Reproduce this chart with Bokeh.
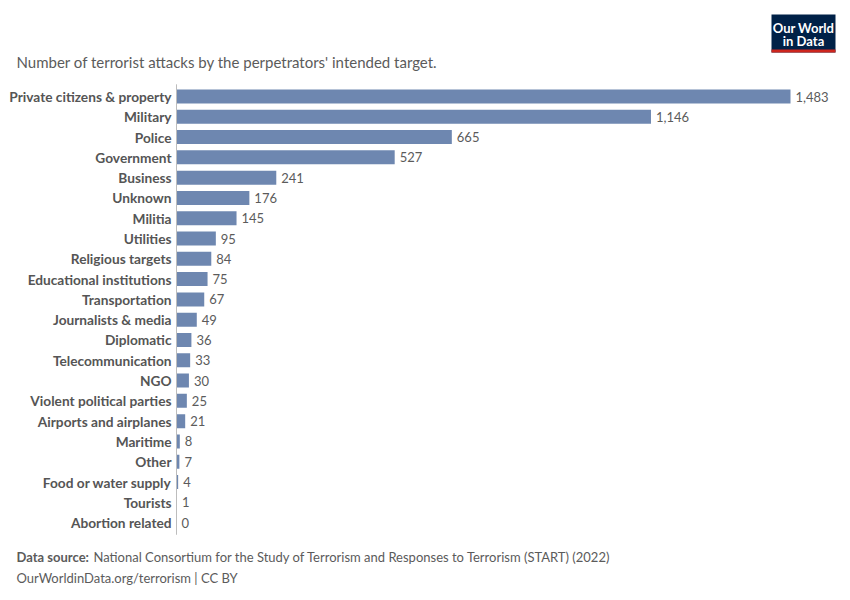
from bokeh.plotting import figure
from bokeh.models import ColumnDataSource, Range1d, Label, BoxAnnotation
from bokeh.core.properties import value
from bokeh.embed import file_html
from bokeh.resources import INLINE

categories = ["Private citizens & property", "Military", "Police", "Government", "Business",
              "Unknown", "Militia", "Utilities", "Religious targets", "Educational institutions",
              "Transportation", "Journalists & media", "Diplomatic", "Telecommunication", "NGO",
              "Violent political parties", "Airports and airplanes", "Maritime", "Other",
              "Food or water supply", "Tourists", "Abortion related"]
attacks = [1483, 1146, 665, 527, 241, 176, 145, 95, 84, 75, 67, 49, 36, 33, 30, 25, 21, 8, 7, 4, 1, 0]

title_text = "Number of terrorist attacks by the perpetrators' intended target."
source_bold = "Data source:"
source_text = "National Consortium for the Study of Terrorism and Responses to Terrorism (START) (2022)"
url_text = "OurWorldinData.org/terrorism | CC BY"

FONT = "Lato"
BAR = "#6e87b0"
GREY = "#5b5b5b"

W, H = 850, 600
# layout: value 0 at page x=176, 1483 at x=790; row 0 centred at y=96, row pitch 20.29px
x_per_px = 1483 / 614
row_px = 20.29
x_start = -176 * x_per_px
x_end = (W - 176) * x_per_px
y_top = -96 / row_px
y_bottom = (H - 96) / row_px

src = ColumnDataSource(dict(idx=list(range(len(categories))), cat=categories, val=attacks,
                            lbl=[f"{v:,}" for v in attacks]))

p = figure(width=W, height=H, output_backend="svg", toolbar_location=None,
           x_range=Range1d(x_start, x_end), y_range=Range1d(y_bottom, y_top),
           min_border=0)
p.axis.visible = False
p.outline_line_color = None
p.grid.grid_line_color = None
p.background_fill_color = "white"
p.border_fill_color = "white"

p.hbar(y="idx", right="val", left=0, height=0.69, source=src, fill_color=BAR, line_color=None)
p.text(x="val", y="idx", text="lbl", source=src, x_offset=5, text_baseline="middle",
       text_align="left", text_font=value(FONT), text_font_size="13px", text_color=GREY)
p.text(x=0, y="idx", text="cat", source=src, x_offset=-5, text_baseline="middle",
       text_align="right", text_font=value(FONT), text_font_style="bold",
       text_font_size="13.7px", text_color="#555555")
p.segment(x0=[0], y0=[-0.6], x1=[0], y1=[len(categories) - 0.4], line_color="#bdbdbd", line_width=1)

def L(px, py, text, **kw):
    d = dict(x=px, y=H - py, x_units="screen", y_units="screen", text=text,
             text_font=FONT, text_baseline="middle")
    d.update(kw)
    p.add_layout(Label(**d))

def B(l, r, t, b, color):
    p.add_layout(BoxAnnotation(left=l, right=r, top=H - t, bottom=H - b,
                               left_units="screen", right_units="screen", top_units="screen",
                               bottom_units="screen", fill_color=color, fill_alpha=1,
                               line_color=None))

L(16, 61, title_text, text_font_size="15px", text_color=GREY)
L(16, 556, source_bold, text_font_size="13px", text_color=GREY, text_font_style="bold")
L(93, 556, source_text, text_font_size="13px", text_color=GREY)
L(16, 577, url_text, text_font_size="13px", text_color=GREY)

B(771, 835, 14, 52, "#002147")
B(771, 835, 49, 52, "#ce261e")
L(803, 27, "Our World", text_font_size="13px", text_color="white", text_align="center",
  text_font_style="bold")
L(803, 40, "in Data", text_font_size="13px", text_color="white", text_align="center",
  text_font_style="bold")

open("out.html", "w").write(file_html(p, INLINE))
